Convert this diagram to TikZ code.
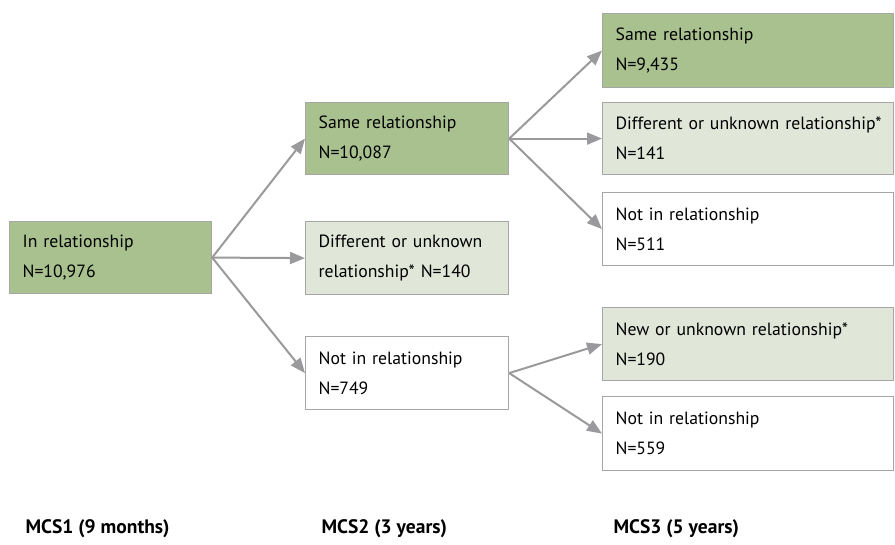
\documentclass[tikz,border=0pt]{standalone}
\usepackage{fontspec}
\setmainfont{PT Sans}
\usetikzlibrary{arrows.meta}
\definecolor{dkgreen}{HTML}{A8C18F}
\definecolor{ltgreen}{HTML}{E0E6D8}
\definecolor{bordergray}{HTML}{A6A6A6}
\definecolor{arrowgray}{HTML}{9A9A9C}
\begin{document}
\begin{tikzpicture}[x=1pt,y=-1pt,
  box/.style={draw=bordergray, line width=1.2pt, anchor=north west, align=left,
    inner xsep=13pt, inner ysep=0pt, font=\fontsize{17.7}{30}\selectfont,
    minimum height=72pt},
  narrowbox/.style={box, text width=177pt, minimum width=203pt},
  widebox/.style={box, text width=265pt, minimum width=291pt},
  conn/.style={draw=arrowgray, line width=2pt, -{Triangle[length=15pt,width=12pt]}},
  lab/.style={anchor=base west, font=\fontsize{19.5}{22}\selectfont\bfseries}]
\useasboundingbox (0,0) rectangle (895,545);
\node[box, fill=dkgreen, text width=176pt, minimum width=202pt] (A) at (9,221) {In relationship\\N=10,976};
\node[narrowbox, fill=dkgreen] (B) at (305,102) {Same relationship\\N=10,087};
\node[narrowbox, fill=ltgreen, minimum height=73pt] (C) at (305,221) {Different or unknown\\relationship* N=140};
\node[narrowbox, fill=white, minimum height=73pt] (D) at (305,336) {Not in relationship\\N=749};
\node[widebox, fill=dkgreen, minimum height=74pt] (E) at (602,13) {Same relationship\\N=9,435};
\node[widebox, fill=ltgreen] (F) at (602,102) {\mbox{Different or unknown relationship*}\\N=141};
\node[widebox, fill=white, minimum height=73pt] (G) at (602,192) {Not in relationship\\N=511};
\node[widebox, fill=ltgreen, minimum height=73pt] (H) at (602,307) {New or unknown relationship*\\N=190};
\node[widebox, fill=white, minimum height=74pt] (I) at (602,396) {Not in relationship\\N=559};
\draw[conn] (A.east) -- (B.west);
\draw[conn] (A.east) -- (C.west);
\draw[conn] (A.east) -- (D.west);
\draw[conn] (B.east) -- (E.west);
\draw[conn] (B.east) -- (F.west);
\draw[conn] (B.east) -- (G.west);
\draw[conn] (D.east) -- (H.west);
\draw[conn] (D.east) -- (I.west);
\node[lab] (L1) at (22,533) {MCS1 (9 months)};
\node[lab] (L2) at (318,533) {MCS2 (3 years)};
\node[lab] (L3) at (610,533) {MCS3 (5 years)};
\end{tikzpicture}
\end{document}
